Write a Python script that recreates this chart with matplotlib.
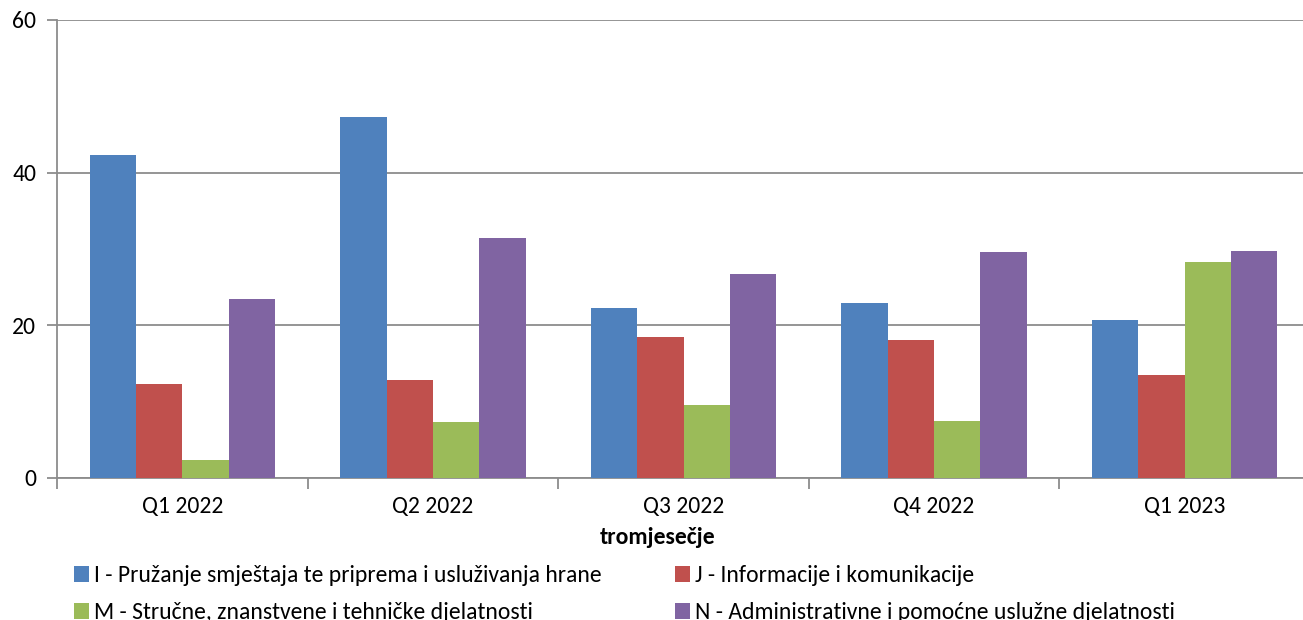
import matplotlib
matplotlib.use("Agg")
import matplotlib.pyplot as plt
import numpy as np
from matplotlib.patches import Patch

plt.rcParams['font.family'] = ['Carlito', 'DejaVu Sans']

categories = ["Q1 2022", "Q2 2022", "Q3 2022", "Q4 2022", "Q1 2023"]
series_names = [
    "I - Pružanje smještaja te priprema i usluživanja hrane",
    "J - Informacije i komunikacije",
    "M - Stručne, znanstvene i tehničke djelatnosti",
    "N - Administrativne i pomoćne uslužne djelatnosti",
]
values_I = [42.3, 47.3, 22.3, 22.9, 20.7]
values_J = [12.3, 12.9, 18.5, 18.1, 13.45]
values_M = [2.4, 7.4, 9.6, 7.5, 28.3]
values_N = [23.4, 31.4, 26.7, 29.6, 29.7]
series_values = [values_I, values_J, values_M, values_N]
colors = ["#4F81BD", "#C0504D", "#9BBB59", "#8064A2"]
yticks = [0, 20, 40, 60]
xlabel = "tromjesečje"

FS = 17
W, H = 1303, 620
fig = plt.figure(figsize=(W / 100, H / 100), dpi=100)
ax = fig.add_axes([57 / W, 1 - 478 / H, (1310 - 57) / W, (478 - 20) / H])

x = np.arange(len(categories)) + 0.5
bw = 0.185
for i, (vals, c) in enumerate(zip(series_values, colors)):
    ax.bar(x + (i - 1.5) * bw, vals, width=bw, color=c, edgecolor='none', zorder=3)

ax.set_xlim(0, len(categories))
ax.set_ylim(0, 60)
ax.set_yticks(yticks)
ax.yaxis.grid(True, color='#8c8c8c', linewidth=1.3, zorder=0)
ax.set_axisbelow(True)

ax.set_xticks(np.arange(len(categories) + 1))
ax.set_xticklabels([])
ax.set_xticks(x, minor=True)
ax.set_xticklabels(categories, minor=True)
ax.tick_params(axis='x', which='major', length=8, color='#8c8c8c', width=1.3)
ax.tick_params(axis='x', which='minor', length=0, pad=13, labelsize=FS)
ax.tick_params(axis='y', length=7, color='#8c8c8c', width=1.3, labelsize=FS, pad=8)

for s in ['top', 'right']:
    ax.spines[s].set_visible(False)
for s in ['left', 'bottom']:
    ax.spines[s].set_color('#8c8c8c')
    ax.spines[s].set_linewidth(1.3)

fig.text(658 / W, 1 - 537 / H, xlabel, ha='center', va='center', fontsize=FS, fontweight='bold')

handles = [Patch(facecolor=c, edgecolor='none') for c in colors]
common = dict(frameon=False, fontsize=FS, handlelength=0.64, handleheight=0.64,
              handletextpad=0.2, labelspacing=0.68, borderaxespad=0, borderpad=0)
fig.legend([handles[0], handles[2]], [series_names[0], series_names[2]],
           loc='upper left', bbox_to_anchor=(74 / W, 1 - 565 / H), **common)
fig.legend([handles[1], handles[3]], [series_names[1], series_names[3]],
           loc='upper left', bbox_to_anchor=(675 / W, 1 - 565 / H), **common)

fig.savefig("out.png", dpi=100)
